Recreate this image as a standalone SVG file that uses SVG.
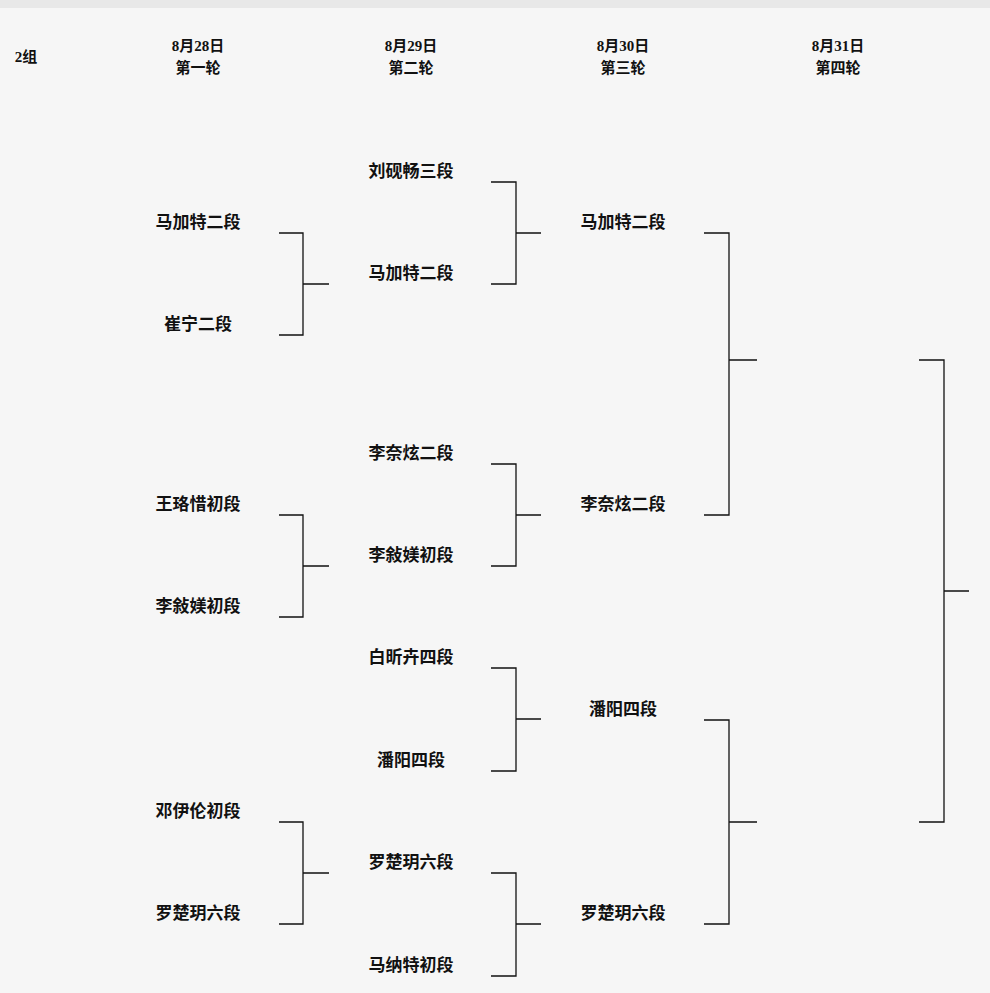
<svg xmlns="http://www.w3.org/2000/svg" width="990" height="993" viewBox="0 0 990 993">
<style>
text{font-family:"Liberation Serif","Noto Sans CJK SC",serif;font-weight:bold;fill:#111;text-anchor:middle}
.h{font-size:15px}.n{font-size:17px}
.c path{fill:none;stroke:#111;stroke-width:1.3}
</style>
<rect width="990" height="993" fill="#f6f6f6"/>
<rect width="990" height="8" fill="#e8e8e8"/>
<g id="header">
<text class="h" x="26" y="62">2组</text>
<text class="h" x="198" y="51">8月28日</text><text class="h" x="198" y="73">第一轮</text>
<text class="h" x="411" y="51">8月29日</text><text class="h" x="411" y="73">第二轮</text>
<text class="h" x="623" y="51">8月30日</text><text class="h" x="623" y="73">第三轮</text>
<text class="h" x="838" y="51">8月31日</text><text class="h" x="838" y="73">第四轮</text>
</g>
<g id="r1">
<text class="n" x="198" y="228">马加特二段</text>
<text class="n" x="198" y="330">崔宁二段</text>
<text class="n" x="198" y="510">王珞惜初段</text>
<text class="n" x="198" y="612">李敍媄初段</text>
<text class="n" x="198" y="817">邓伊伦初段</text>
<text class="n" x="198" y="919">罗楚玥六段</text>
</g>
<g id="r2">
<text class="n" x="411" y="177">刘砚畅三段</text>
<text class="n" x="411" y="279">马加特二段</text>
<text class="n" x="411" y="459">李奈炫二段</text>
<text class="n" x="411" y="561">李敍媄初段</text>
<text class="n" x="411" y="663">白昕卉四段</text>
<text class="n" x="411" y="766">潘阳四段</text>
<text class="n" x="411" y="868">罗楚玥六段</text>
<text class="n" x="411" y="971">马纳特初段</text>
</g>
<g id="r3">
<text class="n" x="623" y="228">马加特二段</text>
<text class="n" x="623" y="510">李奈炫二段</text>
<text class="n" x="623" y="715">潘阳四段</text>
<text class="n" x="623" y="919">罗楚玥六段</text>
</g>
<g id="connectors" class="c">
<path d="M279 233H303V335H279M303 284H329"/>
<path d="M279 515H303V617H279M303 566H329"/>
<path d="M279 822H303V924H279M303 873H329"/>
<path d="M491 182H516V284H491M516 233H541"/>
<path d="M491 464H516V566H491M516 515H541"/>
<path d="M491 668H516V771H491M516 719H541"/>
<path d="M491 873H516V976H491M516 924H541"/>
<path d="M704 233H729V515H704M729 360H757"/>
<path d="M704 720H729V924H704M729 822H757"/>
<path d="M919 360H944V822H919M944 591H969"/>
</g>
</svg>
